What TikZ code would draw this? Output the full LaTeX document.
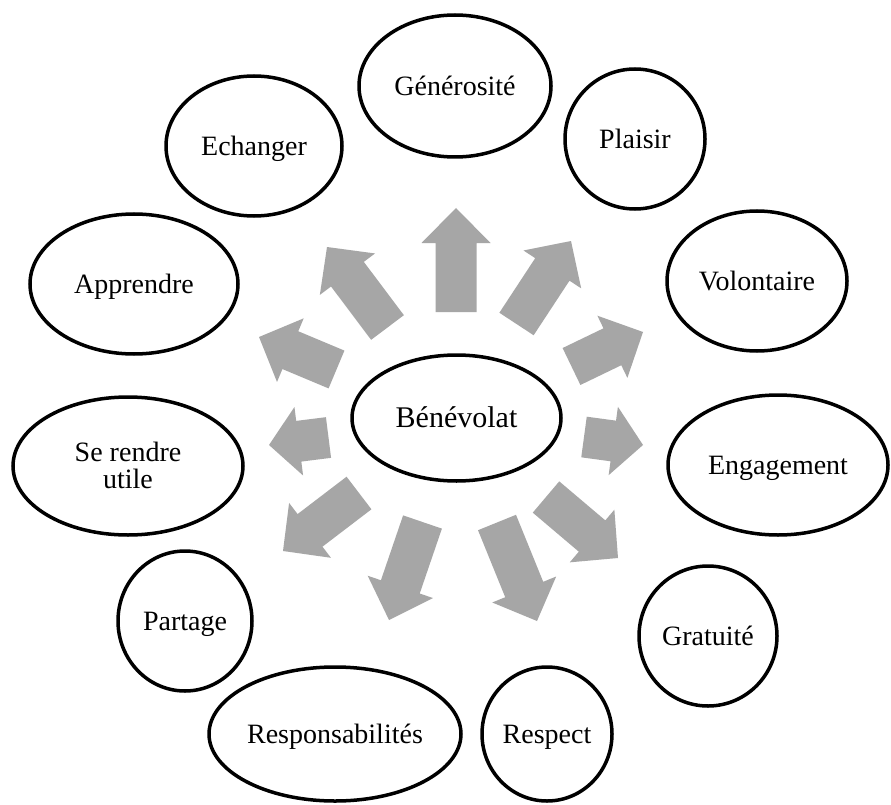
\documentclass[tikz,border=0pt]{standalone}
\usepackage{fontspec}
\setmainfont{Liberation Serif}
\usetikzlibrary{shapes.geometric,calc}
\definecolor{arrowgray}{RGB}{166,166,166}
\tikzset{
  bubble/.style={draw=black, line width=3.5pt, ellipse, inner sep=0pt, align=center,
    font=\fontsize{28}{27}\selectfont, text height=18.5pt, text depth=0pt},
}
\newcommand\fatarrow[3]{%
  \coordinate (fa-b) at ($(#2)!#3pt!(#1)$);
  \fill[arrowgray] ($(#1)!20.5pt!90:(#2)$) -- ($(fa-b)!20.5pt!90:(#2)$) -- ($(fa-b)!34.5pt!90:(#2)$) -- (#2)
    -- ($(fa-b)!34.5pt!-90:(#2)$) -- ($(fa-b)!20.5pt!-90:(#2)$) -- ($(#1)!20.5pt!-90:(#2)$) -- cycle;
}
\begin{document}
\begin{tikzpicture}[x=1pt, y=-1pt]
\fill[white] (0,0) rectangle (891,805);
\useasboundingbox (0,0) rectangle (891,805);

% central node
\node[bubble, minimum width=209pt, minimum height=126pt, font=\fontsize{30}{30}\selectfont, text height=19.9pt] (ben) at (456.5,418) {Bénévolat};

% outer nodes
\node[bubble, minimum width=192pt, minimum height=142pt] (gen) at (455,86) {Générosité};
\node[bubble, minimum width=140pt, minimum height=140pt] (pla) at (635,139) {Plaisir};
\node[bubble, minimum width=176pt, minimum height=140pt] (ech) at (254,146) {Echanger};
\node[bubble, minimum width=180pt, minimum height=140pt] (vol) at (757,281) {Volontaire};
\node[bubble, minimum width=208pt, minimum height=140pt] (app) at (134,284) {Apprendre};
\node[bubble, minimum width=230pt, minimum height=138pt, text height=45.5pt, text depth=0pt] (ser) at (128,466) {Se rendre\\utile};
\node[bubble, minimum width=220pt, minimum height=140pt] (eng) at (778,465) {Engagement};
\node[bubble, minimum width=134pt, minimum height=140pt] (par) at (185,621) {Partage};
\node[bubble, minimum width=138pt, minimum height=140pt] (gra) at (708,636) {Gratuité};
\node[bubble, minimum width=252pt, minimum height=134pt] (res) at (335,734) {Responsabilités};
\node[bubble, minimum width=130pt, minimum height=134pt] (rsp) at (547,734) {Respect};

% arrows: tail centre and tip
\coordinate (t1) at (456,312);     \coordinate (h1) at (456,208);
\coordinate (t2) at (387.5,327.5); \coordinate (h2) at (327,247);
\coordinate (t3) at (516.5,324);   \coordinate (h3) at (571,241);
\coordinate (t4) at (336.5,369.5); \coordinate (h4) at (259,337);
\coordinate (t5) at (571.5,366.5); \coordinate (h5) at (643,332);
\coordinate (t6) at (328.5,437.5); \coordinate (h6) at (269,445);
\coordinate (t7) at (584,437);     \coordinate (h7) at (643,445);
\coordinate (t8) at (359,493);     \coordinate (h8) at (283,551);
\coordinate (t9) at (422.5,522);   \coordinate (h9) at (389,620);
\coordinate (t10) at (497,522.5);  \coordinate (h10) at (537,621);
\coordinate (t11) at (546,497);    \coordinate (h11) at (618,558);

\fatarrow{t1}{h1}{35}
\fatarrow{t2}{h2}{34}
\fatarrow{t3}{h3}{34}
\fatarrow{t4}{h4}{34}
\fatarrow{t5}{h5}{34}
\fatarrow{t6}{h6}{30}
\fatarrow{t7}{h7}{30}
\fatarrow{t8}{h8}{34}
\fatarrow{t9}{h9}{35}
\fatarrow{t10}{h10}{34}
\fatarrow{t11}{h11}{34}
\end{tikzpicture}
\end{document}
